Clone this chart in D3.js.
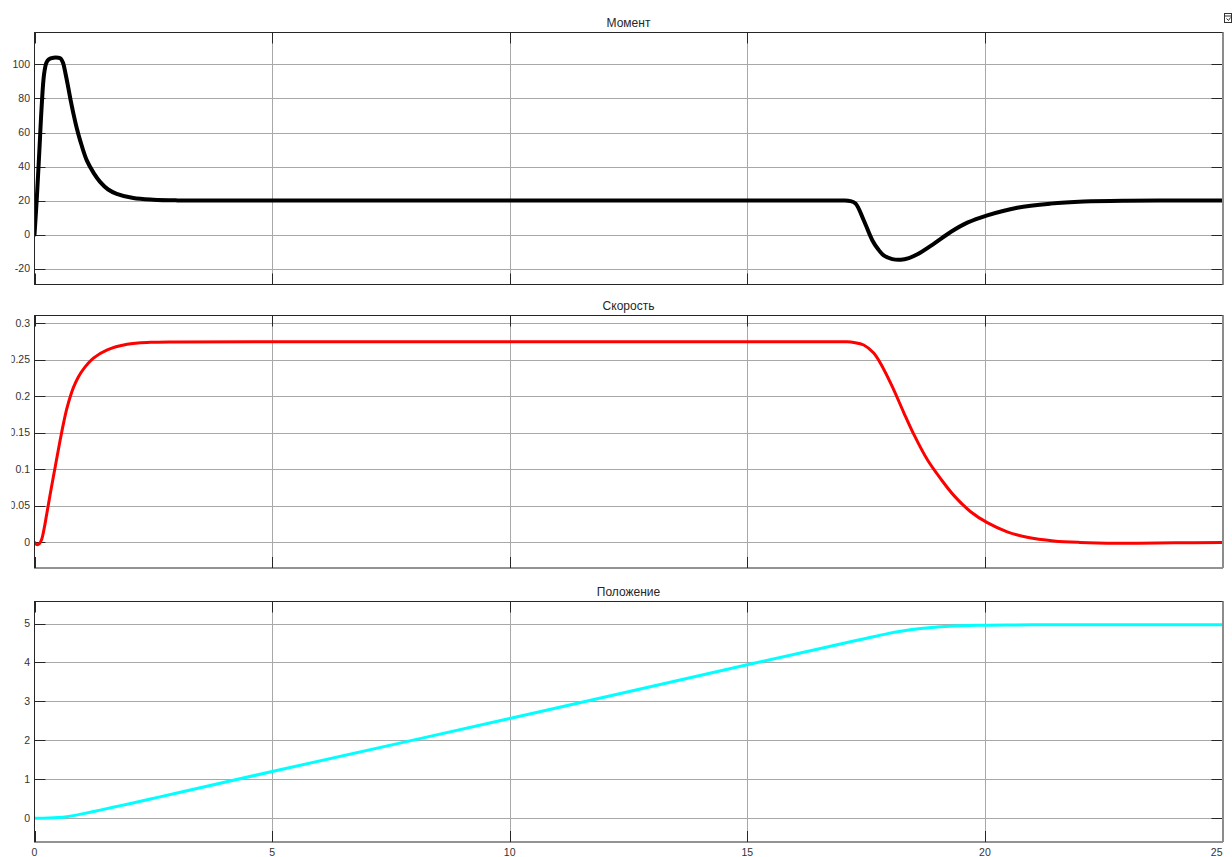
<!DOCTYPE html>
<html>
<head>
<meta charset="utf-8">
<script src="https://cdn.jsdelivr.net/npm/d3@7/dist/d3.min.js"></script>
<style>
  html, body { margin: 0; padding: 0; background: #fff; }
  svg { display: block; }
  text { font-family: "Liberation Sans", Arial, Helvetica, sans-serif; }
</style>
</head>
<body>
<svg id="chart" width="1232" height="857"></svg>
<script>
// ---- time axis ----
const xTicks = [0, 5, 10, 15, 20, 25];

// ---- Момент (torque) ----
const torqueT = [0, 0.05, 0.1, 0.15, 0.2, 0.25, 0.3, 0.4, 0.5, 0.55, 0.6, 0.65, 0.7, 0.76, 0.82, 0.89, 0.96, 1.1, 1.25, 1.38, 1.55, 1.73, 2.08, 2.5, 3, 4,
                 6, 8, 10, 12, 14, 16, 16.6, 17.0, 17.17, 17.28, 17.45, 17.63, 17.75, 17.87, 18.05, 18.23, 18.4, 18.58, 18.93, 19.28, 19.63, 20.05, 20.68, 21.38, 22.08, 23, 24, 25];
const torqueV = [0, 22, 48, 75, 94, 101, 103, 104, 104, 103.5, 101, 95, 88, 79, 71, 62.5, 55.4, 43.6, 36, 31, 26.5, 24, 21.5, 20.5, 20.1, 20,
                 20, 20, 20, 20, 20, 20, 20, 20, 19.7, 18.2, 8.4, -3.3, -8.5, -12.2, -14.4, -14.8, -13.8, -11.6, -5.3, 1.5, 7, 11.3, 15.8, 18.2, 19.4, 19.9, 20, 20];
const torqueTicks = [-20, 0, 20, 40, 60, 80, 100];

// ---- Скорость (speed) ----
const speedT = [0, 0.05, 0.1, 0.15, 0.2, 0.25, 0.33, 0.44, 0.54, 0.62, 0.68, 0.76, 0.82, 0.92, 1.03, 1.24, 1.52, 1.95, 2.44, 3, 5, 8, 11, 14, 16, 16.7, 17.1,
                17.24, 17.45, 17.66, 17.87, 18.08, 18.29, 18.51, 18.79, 19.07, 19.35, 19.7, 20.05, 20.47, 20.89, 21.45, 22, 22.8, 24, 25];
const speedV = [0, -0.003, -0.002, 0.004, 0.018, 0.036, 0.066, 0.105, 0.14, 0.166, 0.183, 0.201, 0.212, 0.226, 0.237, 0.252, 0.263, 0.271, 0.2737, 0.2743, 0.2745, 0.2745, 0.2745, 0.2745, 0.2745, 0.2745, 0.2744,
                0.2735, 0.270, 0.259, 0.237, 0.209, 0.178, 0.147, 0.113, 0.087, 0.064, 0.042, 0.027, 0.0145, 0.007, 0.002, 0.0, -0.001, -0.0005, 0];
const speedTicks = [0, 0.05, 0.1, 0.15, 0.2, 0.25, 0.3];

// ---- Положение (position) ----
const posT = [0, 0.3, 0.5, 0.68, 0.85, 1.03, 1.38, 1.7, 2.0, 2.44, 3, 5, 10, 15, 16.54, 17.24, 17.6, 17.95, 18.3, 18.65, 19.0, 19.35, 19.7, 20.05, 20.5, 21, 23, 25];
const posV = [0, 0.006, 0.018, 0.04, 0.075, 0.12, 0.21, 0.295, 0.375, 0.495, 0.65, 1.2, 2.56, 3.94, 4.36, 4.55, 4.645, 4.74, 4.815, 4.87, 4.91, 4.935, 4.95, 4.958, 4.963, 4.965, 4.965, 4.965];
const posTicks = [0, 1, 2, 3, 4, 5];

const svg = d3.select("#chart");
const left = 34.5, right = 1222.5;
const x = d3.scaleLinear().domain([0, 25]).range([left, right]);

const panels = [
  { title: "Момент",    t: torqueT, v: torqueV, ticks: torqueTicks, domain: [-29.35, 118.8], top: 32.5,  bottom: 284.5, color: "#000000", width: 4,   xLabels: false },
  { title: "Скорость",  t: speedT,  v: speedV,  ticks: speedTicks,  domain: [-0.035, 0.3104], top: 315.5, bottom: 568,   color: "#ff0000", width: 3,   xLabels: false },
  { title: "Положение", t: posT,    v: posV,    ticks: posTicks,    domain: [-0.609, 5.565], top: 601.5, bottom: 842,   color: "#00ffff", width: 3,   xLabels: true }
];

// y tick labels are clipped at the left edge of the label strip
svg.append("defs").append("clipPath").attr("id", "labelClip")
  .append("rect").attr("x", 11.5).attr("y", 0).attr("width", 30).attr("height", 857);

panels.forEach((p, i) => {
  const y = d3.scaleLinear().domain(p.domain).range([p.bottom, p.top]);
  const g = svg.append("g");

  g.append("defs").append("clipPath").attr("id", "plotClip" + i)
    .append("rect").attr("x", left).attr("y", p.top).attr("width", right - left).attr("height", p.bottom - p.top);

  // horizontal grid
  g.selectAll(".hgrid").data(p.ticks).join("line")
    .attr("x1", left).attr("x2", right)
    .attr("y1", d => Math.round(y(d)) + 0.5).attr("y2", d => Math.round(y(d)) + 0.5)
    .attr("stroke", "#a8a8a8").attr("stroke-width", 1);

  // vertical grid
  g.selectAll(".vgrid").data(xTicks.slice(1, -1)).join("line")
    .attr("x1", d => Math.round(x(d)) + 0.5).attr("x2", d => Math.round(x(d)) + 0.5)
    .attr("y1", p.top).attr("y2", p.bottom)
    .attr("stroke", "#a8a8a8").attr("stroke-width", 1);

  // inner tick marks, left/right
  p.ticks.forEach(d => {
    const yy = Math.round(y(d)) + 0.5;
    g.append("line").attr("x1", left).attr("x2", left + 11).attr("y1", yy).attr("y2", yy).attr("stroke", "#262626");
    g.append("line").attr("x1", right - 11).attr("x2", right).attr("y1", yy).attr("y2", yy).attr("stroke", "#262626");
  });
  // inner tick marks, top/bottom
  xTicks.forEach(d => {
    const xx = Math.round(x(d)) + 0.5;
    g.append("line").attr("x1", xx).attr("x2", xx).attr("y1", p.top).attr("y2", p.top + 11).attr("stroke", "#262626");
    g.append("line").attr("x1", xx).attr("x2", xx).attr("y1", p.bottom - 11).attr("y2", p.bottom).attr("stroke", "#262626");
  });

  // series line
  const pts = p.t.map((t, k) => [t, p.v[k]]);
  g.append("path")
    .datum(pts)
    .attr("clip-path", `url(#plotClip${i})`)
    .attr("fill", "none")
    .attr("stroke", p.color)
    .attr("stroke-width", p.width)
    .attr("stroke-linejoin", "round")
    .attr("stroke-linecap", "round")
    .attr("d", d3.line().x(d => x(d[0])).y(d => y(d[1])).curve(d3.curveCatmullRom.alpha(0.5)));

  // frame
  g.append("rect")
    .attr("x", left).attr("y", p.top).attr("width", right - left).attr("height", p.bottom - p.top)
    .attr("fill", "none").attr("stroke", "#262626").attr("stroke-width", 1);
  g.append("line")
    .attr("x1", right + 0.5).attr("x2", right + 0.5).attr("y1", p.top).attr("y2", p.bottom)
    .attr("stroke", "#8c8c8c").attr("stroke-width", 2);

  // y tick labels
  g.append("g").attr("clip-path", "url(#labelClip)")
    .selectAll("text").data(p.ticks).join("text")
    .attr("x", 30).attr("y", d => y(d) + 3.6)
    .attr("text-anchor", "end")
    .attr("font-size", 10.5)
    .attr("fill", "#333")
    .text(d => String(d));

  // title
  g.append("text")
    .attr("x", (left + right) / 2).attr("y", p.top - 6)
    .attr("text-anchor", "middle")
    .attr("font-size", 12)
    .attr("fill", "#262626")
    .text(p.title);

  // x tick labels (bottom panel only)
  if (p.xLabels) {
    g.selectAll(".xl").data(xTicks).join("text")
      .attr("x", d => x(d)).attr("y", 856)
      .attr("text-anchor", d => d === 25 ? "end" : "middle")
      .attr("font-size", 10.5)
      .attr("fill", "#333")
      .text(d => String(d));
  }
});

// small scope toolbar glyph at top right
const icon = svg.append("g").attr("transform", "translate(1224.5,13.5)");
icon.append("rect").attr("width", 7).attr("height", 9).attr("fill", "#fff").attr("stroke", "#333");
icon.append("line").attr("x1", 0).attr("x2", 7).attr("y1", 2.5).attr("y2", 2.5).attr("stroke", "#333");
icon.append("path").attr("d", "M2,5 L4,7 L6,4").attr("fill", "none").attr("stroke", "#333");
</script>
</body>
</html>
